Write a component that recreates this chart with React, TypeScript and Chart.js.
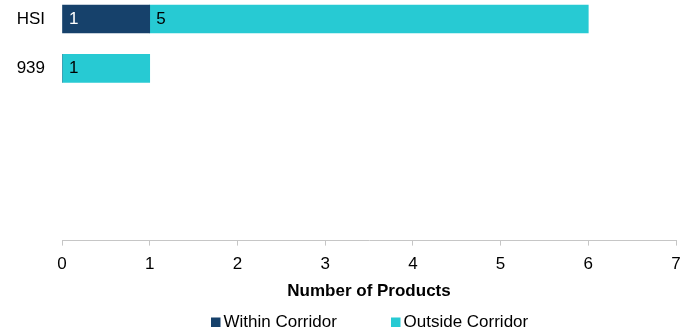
import React, { useEffect, useRef } from "react";
import { Chart, registerables } from "chart.js";

Chart.register(...registerables);

// Products per underlying, split by corridor status
const categories = ["HSI", "939"];
const withinCorridor = [1, 0];
const outsideCorridor = [5, 1];
const seriesNames = ["Within Corridor", "Outside Corridor"];
const seriesColors = ["#16416b", "#27cad3"];
const valueLabelColors = ["#ffffff", "#000000"];
const axisTitle = "Number of Products";
const xMin = 0;
const xMax = 7;

const FONT = "'Liberation Sans', Arial, Helvetica, sans-serif";
const TEXT_SIZE = 17;

// Value labels inside each bar segment, anchored at the segment's start
const valueLabels = {
  id: "valueLabels",
  afterDatasetsDraw(chart: any) {
    const ctx = chart.ctx;
    ctx.save();
    ctx.font = `${TEXT_SIZE}px ${FONT}`;
    ctx.textAlign = "left";
    ctx.textBaseline = "middle";
    chart.data.datasets.forEach((ds: any, i: number) => {
      const meta = chart.getDatasetMeta(i);
      meta.data.forEach((bar: any, j: number) => {
        const v = ds.data[j].x;
        if (!v) return;
        const { x, y, base } = bar.getProps(["x", "y", "base"], true);
        ctx.fillStyle = valueLabelColors[i];
        ctx.fillText(String(v), Math.min(x, base) + 6.5, y);
      });
    });
    ctx.restore();
  },
};

// Legend row under the axis title
const legendRow = {
  id: "legendRow",
  afterDraw(chart: any) {
    const ctx = chart.ctx;
    const area = chart.chartArea;
    ctx.save();
    ctx.font = `${TEXT_SIZE}px ${FONT}`;
    ctx.textAlign = "left";
    ctx.textBaseline = "alphabetic";
    const colStart = area.left + 149;
    const colStep = 180;
    const baseline = 327.3;
    chart.data.datasets.forEach((ds: any, i: number) => {
      const x = colStart + i * colStep;
      ctx.fillStyle = ds.backgroundColor;
      ctx.fillRect(x, baseline - 9.8, 9.5, 9.5);
      ctx.fillStyle = "#000000";
      ctx.fillText(ds.label, x + 12.5, baseline);
    });
    ctx.restore();
  },
};

export default function App() {
  const canvasRef = useRef<HTMLCanvasElement | null>(null);

  useEffect(() => {
    if (!canvasRef.current) return;
    Chart.defaults.font.family = FONT;
    const series = [withinCorridor, outsideCorridor];
    const chart = new Chart(canvasRef.current, {
      type: "bar",
      data: {
        datasets: series.map((values, i) => ({
          label: seriesNames[i],
          data: categories.map((_, j) => ({ x: values[j], y: j })),
          backgroundColor: seriesColors[i],
          borderWidth: 0,
          barThickness: 28,
          grouped: false,
        })),
      },
      options: {
        indexAxis: "y",
        animation: false,
        responsive: false,
        maintainAspectRatio: false,
        layout: { padding: { top: 0, left: 0, right: 18, bottom: 31 } },
        plugins: {
          legend: { display: false },
          tooltip: { enabled: false },
        },
        scales: {
          x: {
            type: "linear",
            position: "bottom",
            min: xMin,
            max: xMax,
            stacked: true,
            offset: false,
            grid: {
              display: true,
              drawOnChartArea: false,
              drawTicks: true,
              tickLength: 5,
              color: "#c6c6c6",
              lineWidth: 1,
            },
            border: { display: true, color: "#c6c6c6", width: 1 },
            afterFit: (scale: any) => {
              scale.height = 61.4;
            },
            ticks: {
              stepSize: 1,
              padding: 9,
              maxRotation: 0,
              color: "#000000",
              font: { family: FONT, size: TEXT_SIZE },
            },
            title: {
              display: true,
              text: axisTitle,
              color: "#000000",
              font: { family: FONT, size: TEXT_SIZE, weight: "bold" },
              padding: { top: 8, bottom: 0 },
            },
          },
          y: {
            type: "linear",
            reverse: true,
            offset: false,
            bounds: "data",
            min: -0.384,
            max: 4.485,
            grid: { display: false, drawTicks: false, offset: false },
            border: { display: false },
            afterBuildTicks: (scale: any) => {
              scale.ticks = categories.map((_, i) => ({ value: i }));
            },
            afterFit: (scale: any) => {
              scale.width = 62;
              scale.paddingTop = 0;
              scale.paddingBottom = 0;
            },
            ticks: {
              padding: 17,
              color: "#000000",
              font: { family: FONT, size: TEXT_SIZE },
              callback: (v: any) => categories[v as number] ?? "",
            },
          },
        },
      },
      plugins: [valueLabels, legendRow],
    } as any);
    return () => chart.destroy();
  }, []);

  return (
    <div style={{ position: "absolute", left: 0, top: 0, width: 694, height: 333, background: "#ffffff" }}>
      <canvas ref={canvasRef} width={694} height={333} style={{ width: 694, height: 333, display: "block" }} />
    </div>
  );
}
